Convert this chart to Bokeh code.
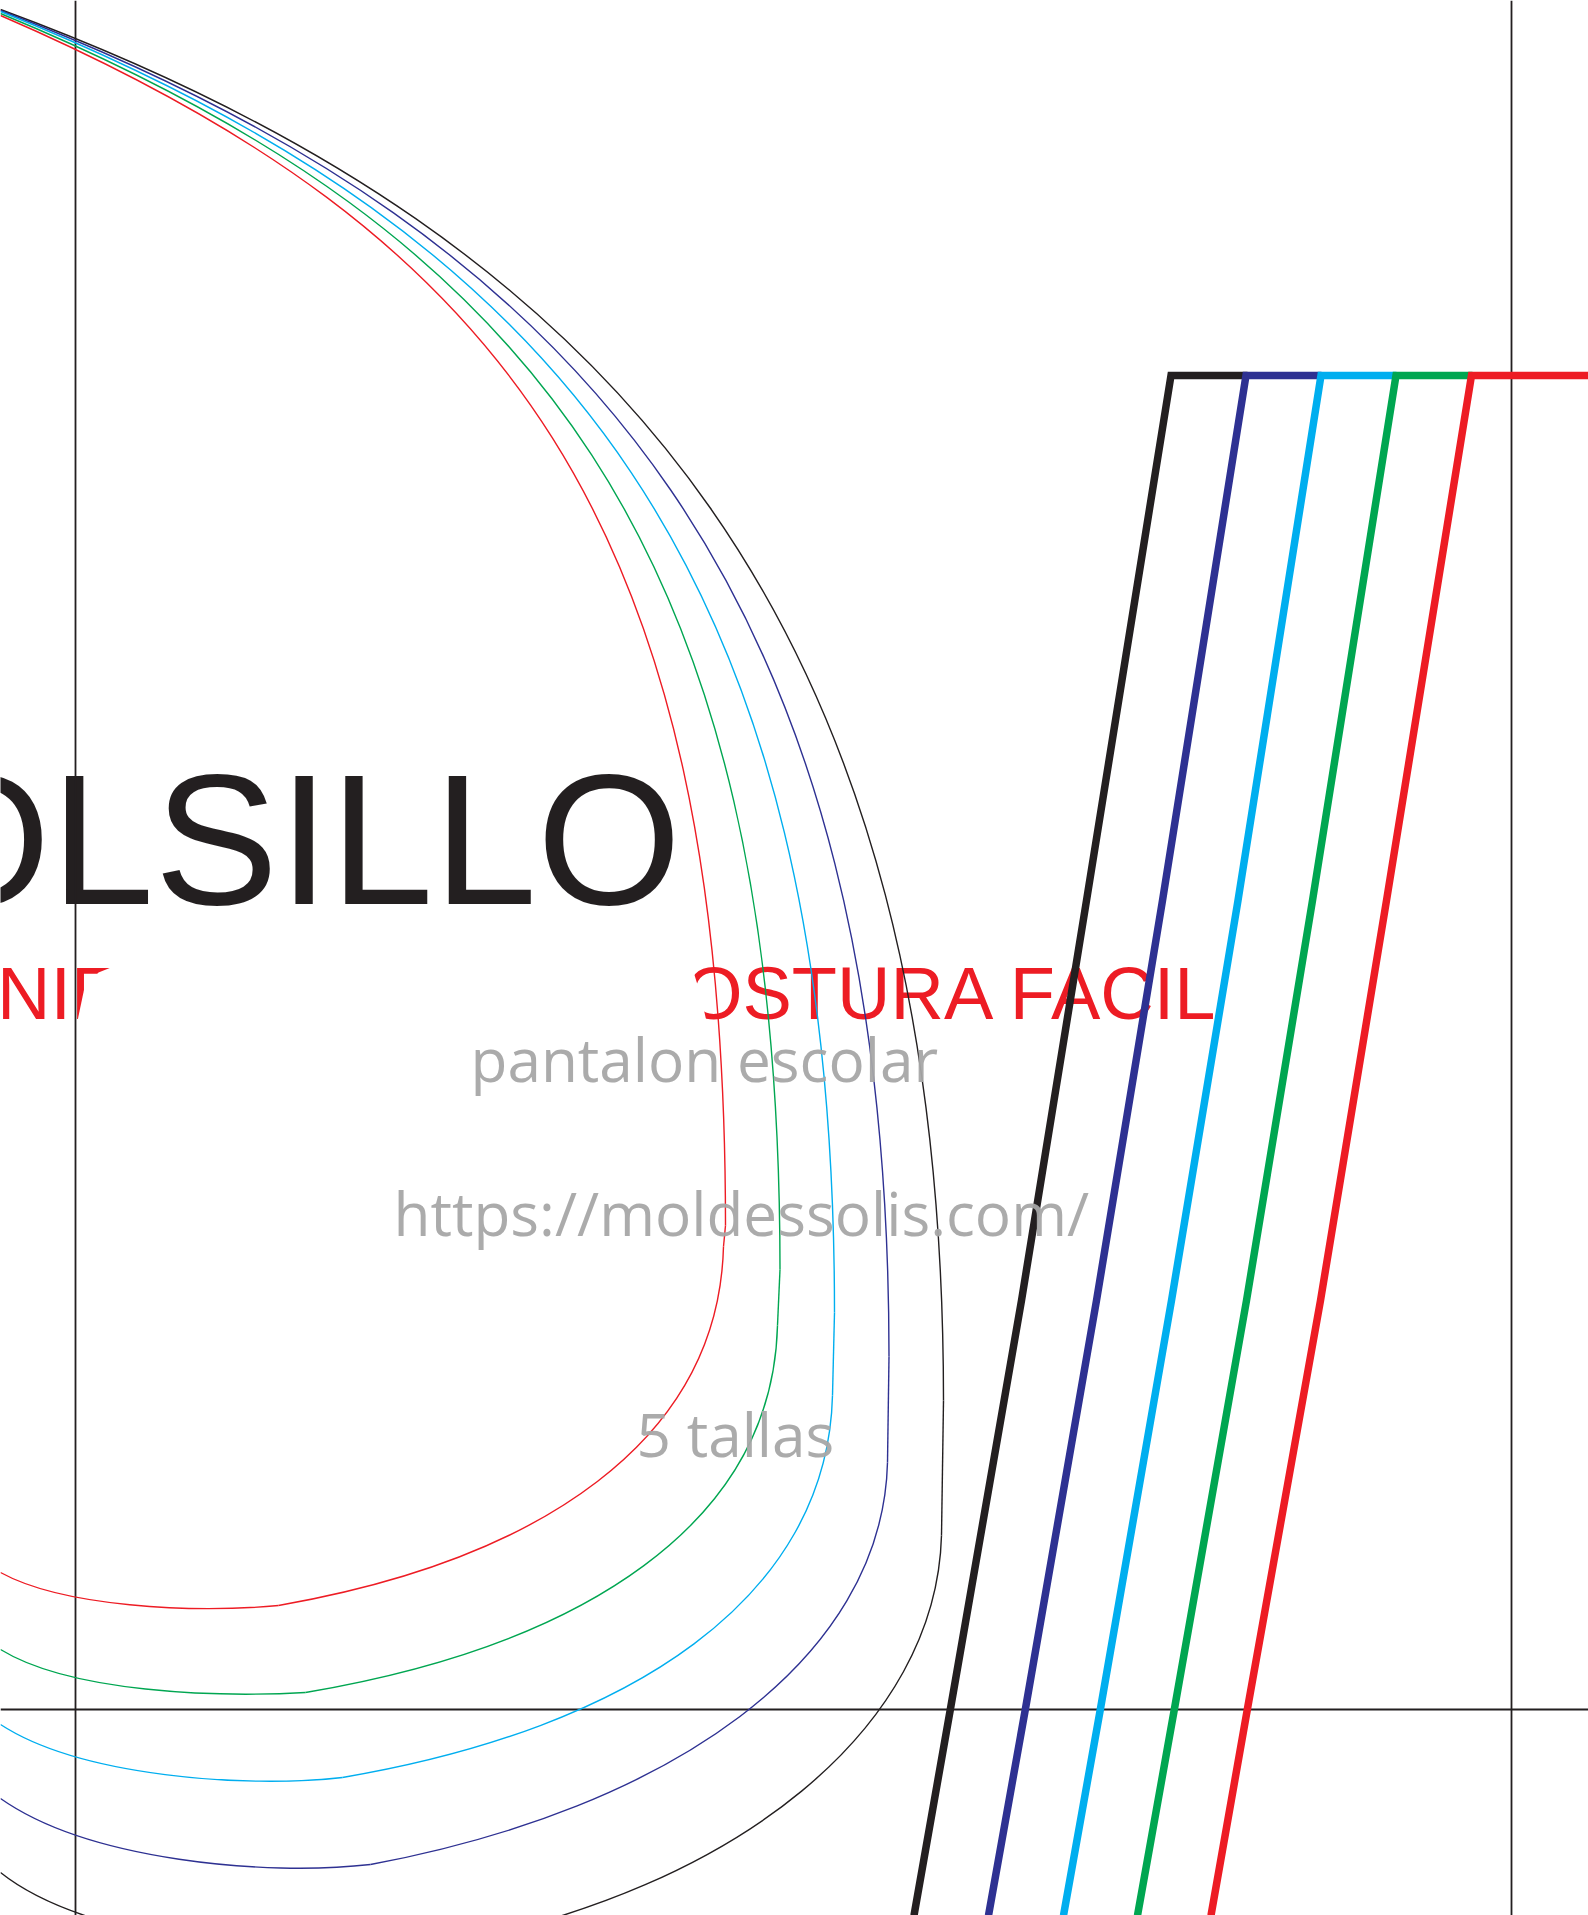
from bokeh.plotting import figure
from bokeh.models import Range1d
from bokeh.core.properties import value
from bokeh.embed import file_html
from bokeh.resources import INLINE

# Pocket outlines, in reference pixels. Order: black, navy, cyan, green, red
names = ["black", "navy", "cyan", "green", "red"]
colors = ["#231f20", "#2e3192", "#00aeef", "#00a651", "#ed1c24"]

# Long upper arc
arc_x0 = [0, 0, 0, 0, 0]
arc_y0 = [9, 10, 11, 13, 15]
arc_cx0 = [635, 602.5, 570, 537.5, 505]
arc_cy0 = [243, 240, 238, 235, 233]
arc_cx1 = [943, 888.5, 834, 779.5, 725]
arc_cy1 = [640, 610, 580, 550, 520]
arc_x1 = [943, 888.5, 834, 779.5, 725]
arc_y1 = [1400, 1356, 1312, 1269, 1225]

# Corner where the outline stops being straight
corner_x = [941, 887, 832, 777, 723]
corner_y = [1535, 1462, 1395, 1325, 1246]

# Lower right curve from corner to bottom kink
low_cx0 = [936, 882, 827, 772, 718]
low_cy0 = [1725, 1660, 1597, 1523, 1440]
low_cx1 = [740, 670, 631, 583, 540]
low_cy1 = [1890, 1808, 1728, 1645, 1559]
kink_x = [440, 370, 342, 305, 278]
kink_y = [1945, 1864, 1777, 1692, 1605]

# Lower left curve from bottom kink to the left edge
left_cx0 = [350, 265, 245, 215, 190]
left_cy0 = [1962, 1876, 1788, 1697, 1613]
left_cx1 = [100, 88, 80, 70, 62]
left_cy1 = [1952, 1860, 1776, 1692, 1606]
left_x = [0, 0, 0, 0, 0]
left_y = [1872, 1798, 1724, 1649, 1572]

# Thick slanted lines with their top bars
thick_xs = [
    [1247, 1170.5, 1086, 1021, 950, 913.5],
    [1321, 1245.5, 1162, 1096, 1025, 988],
    [1396, 1320.5, 1237.5, 1171, 1100, 1063],
    [1472, 1395.5, 1312, 1246, 1174, 1137],
    [1588, 1471, 1386, 1320, 1247, 1210.5],
]
thick_y = [375, 375, 900, 1300, 1708, 1915]

# Guides
guide_v_x = [75, 1511]
guide_h_y = [1709]

# White shapes that hide the red title
mask_left_x = [113, 98, 84, 77.5, 76, 400, 400]
mask_left_y = [966, 972, 987, 1018, 1030, 1030, 955]
mask_right_x = [400, 689, 692, 700, 708, 400]
mask_right_y = [955, 955, 968, 994, 1030, 1030]

GRAY = "#a6a6a6"
BLACK = colors[0]
RED = colors[4]

p = figure(width=1588, height=1915, x_range=Range1d(0, 1588), y_range=Range1d(1915, 0),
           output_backend="svg", toolbar_location=None, min_border=0)
p.axis.visible = False
p.grid.visible = False
p.outline_line_color = None
p.background_fill_color = "white"

p.text(x=[-57], y=[993], text=["UNIF"], text_font=value("Liberation Sans"), text_font_size="74px",
       text_color=RED, text_align="left", text_baseline="alphabetic")
p.text(x=[1219], y=[993], text=["COSTURA FACIL"], text_font=value("Liberation Sans"), text_font_size="74px",
       text_color=RED, text_align="right", text_baseline="alphabetic")
p.patch(mask_left_x, mask_left_y, fill_color="white", line_color=None)
p.patch(mask_right_x, mask_right_y, fill_color="white", line_color=None)

p.text(x=[681], y=[838.5], text=["BOLSILLO"], text_font=value("Liberation Sans"), text_font_size="186px",
       text_color=BLACK, text_align="right", text_baseline="alphabetic")

for gx in guide_v_x:
    p.line([gx, gx], [0, 1915], line_color=BLACK, line_width=1.8)
for gy in guide_h_y:
    p.line([0, 1588], [gy, gy], line_color=BLACK, line_width=1.8)

for i in range(5):
    c = colors[i]
    p.bezier(x0=[arc_x0[i]], y0=[arc_y0[i]], cx0=[arc_cx0[i]], cy0=[arc_cy0[i]],
             cx1=[arc_cx1[i]], cy1=[arc_cy1[i]], x1=[arc_x1[i]], y1=[arc_y1[i]], line_color=c, line_width=1.4)
    p.line([arc_x1[i], corner_x[i]], [arc_y1[i], corner_y[i]], line_color=c, line_width=1.4)
    p.bezier(x0=[corner_x[i]], y0=[corner_y[i]], cx0=[low_cx0[i]], cy0=[low_cy0[i]],
             cx1=[low_cx1[i]], cy1=[low_cy1[i]], x1=[kink_x[i]], y1=[kink_y[i]], line_color=c, line_width=1.4)
    p.bezier(x0=[kink_x[i]], y0=[kink_y[i]], cx0=[left_cx0[i]], cy0=[left_cy0[i]],
             cx1=[left_cx1[i]], cy1=[left_cy1[i]], x1=[left_x[i]], y1=[left_y[i]], line_color=c, line_width=1.4)

for xs, c in zip(thick_xs, colors):
    p.line(xs, thick_y, line_color=c, line_width=7.5, line_join="miter")

for tx, ty, s in [(470, 1058, "pantalon escolar"), (393, 1212, "https://moldessolis.com/"), (636, 1433.5, "5 tallas")]:
    p.text(x=[tx], y=[ty], text=[s], text_font=value("Open Sans"), text_font_size="60.3px",
           text_color=GRAY, text_alpha=0.95, text_align="left", text_baseline="alphabetic")

open("out.html", "w").write(file_html(p, INLINE))
